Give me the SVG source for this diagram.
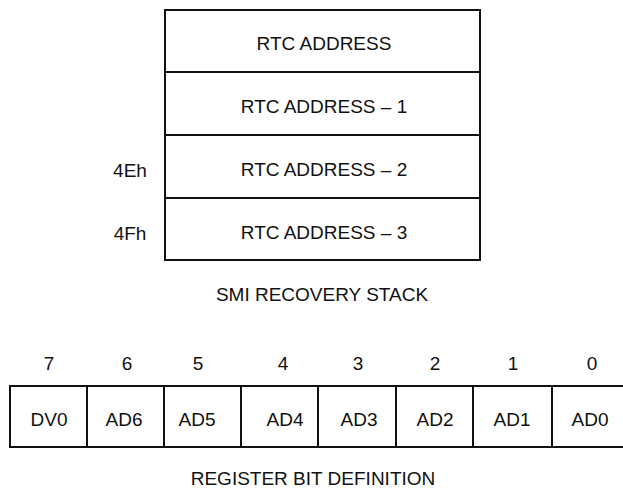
<svg xmlns="http://www.w3.org/2000/svg" width="623" height="489" viewBox="0 0 623 489">
<style>
  .box { fill: #fff; stroke: #111; stroke-width: 2; }
  .t { font-family: "Liberation Sans", Arial, sans-serif; font-size: 19px; fill: #111; text-anchor: middle; }
</style>
<rect width="623" height="489" fill="#fff"/>
<g id="stack">
  <g id="row0"><rect class="box" x="165" y="10" width="315" height="62"/><text class="t" x="324" y="50">RTC ADDRESS</text></g>
  <g id="row1"><rect class="box" x="165" y="72" width="315" height="63"/><text class="t" x="324" y="113">RTC ADDRESS – 1</text></g>
  <g id="row2"><rect class="box" x="165" y="135" width="315" height="63"/><text class="t" x="324" y="176">RTC ADDRESS – 2</text><text class="t" x="130" y="177">4Eh</text></g>
  <g id="row3"><rect class="box" x="165" y="198" width="315" height="62"/><text class="t" x="324" y="239">RTC ADDRESS – 3</text><text class="t" x="130" y="240">4Fh</text></g>
  <text class="t" x="322" y="301">SMI RECOVERY STACK</text>
</g>
<g id="register">
  <g id="b7"><rect class="box" x="10" y="386" width="77" height="61"/><text class="t" x="49" y="370">7</text><text class="t" x="49" y="426">DV0</text></g>
  <g id="b6"><rect class="box" x="87" y="386" width="77" height="61"/><text class="t" x="127" y="370">6</text><text class="t" x="124" y="426">AD6</text></g>
  <g id="b5"><rect class="box" x="164" y="386" width="77" height="61"/><text class="t" x="198" y="370">5</text><text class="t" x="197" y="426">AD5</text></g>
  <g id="b4"><rect class="box" x="241" y="386" width="77" height="61"/><text class="t" x="283" y="370">4</text><text class="t" x="285" y="426">AD4</text></g>
  <g id="b3"><rect class="box" x="318" y="386" width="78" height="61"/><text class="t" x="358" y="370">3</text><text class="t" x="359" y="426">AD3</text></g>
  <g id="b2"><rect class="box" x="396" y="386" width="77" height="61"/><text class="t" x="435" y="370">2</text><text class="t" x="435" y="426">AD2</text></g>
  <g id="b1"><rect class="box" x="473" y="386" width="79" height="61"/><text class="t" x="513" y="370">1</text><text class="t" x="512" y="426">AD1</text></g>
  <g id="b0"><rect class="box" x="552" y="386" width="80" height="61"/><text class="t" x="592" y="370">0</text><text class="t" x="590" y="426">AD0</text></g>
  <text class="t" x="313" y="485">REGISTER BIT DEFINITION</text>
</g>
</svg>
